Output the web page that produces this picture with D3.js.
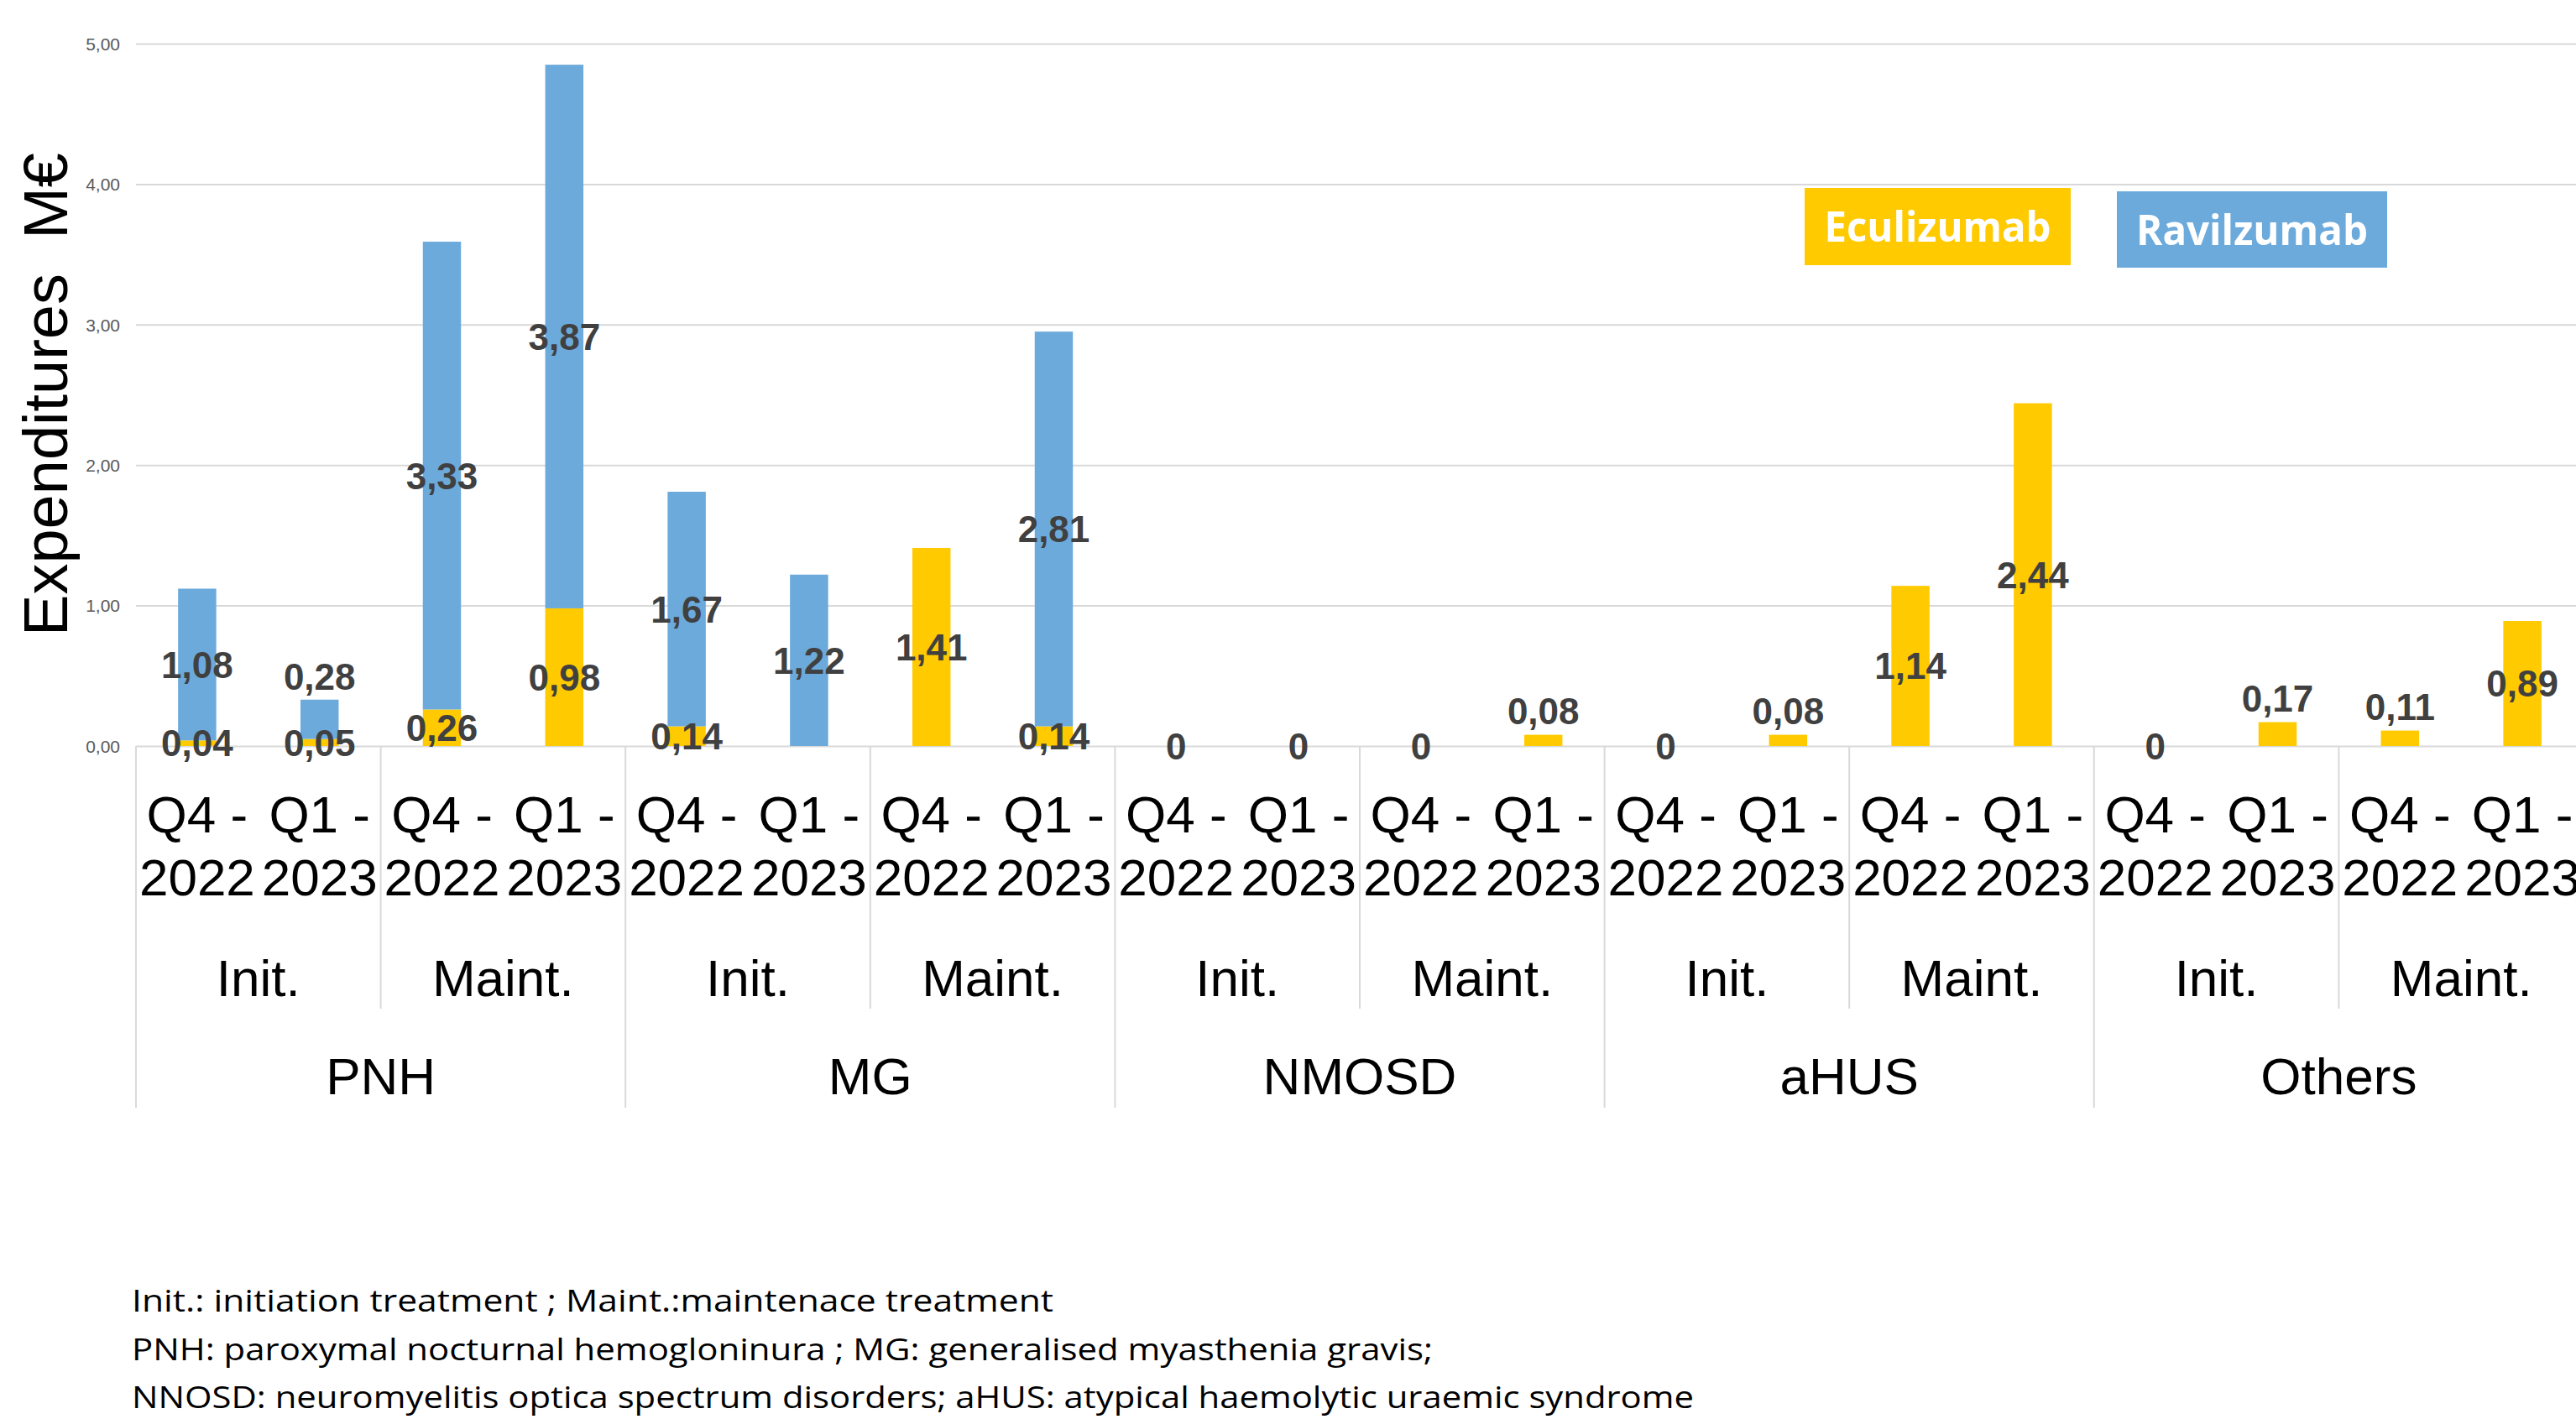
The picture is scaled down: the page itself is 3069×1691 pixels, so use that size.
<!DOCTYPE html>
<html>
<head>
<meta charset="utf-8">
<script src="https://cdn.jsdelivr.net/npm/d3@7"></script>
<style>
  html, body { margin: 0; padding: 0; background: #fff; overflow: hidden; }
  svg { display: block; }
</style>
</head>
<body>
<svg id="chart" width="3069" height="1691"></svg>
<script>
// Categories: disease > treatment phase > quarter
const diseases = ["PNH", "MG", "NMOSD", "aHUS", "Others"];
const phases = ["Init.", "Maint."];
const quarters = [["Q4 -", "2022"], ["Q1 -", "2023"]];

// Expenditures in M€, one value per quarter slot (null = no value shown)
const eculizumab = [0.04, 0.05, 0.26, 0.98,  0.14, null, 1.41, 0.14,  0, 0, 0, 0.08,  0, 0.08, 1.14, 2.44,  0, 0.17, 0.11, 0.89];
const ravulizumab = [1.08, 0.28, 3.33, 3.87,  1.67, 1.22, null, 2.81,  null, null, null, null,  null, null, null, null,  null, null, null, null];

const yTicks = [0, 1, 2, 3, 4, 5];
const legendItems = [
  { name: "Eculizumab", color: "#FFCA00" },
  { name: "Ravilzumab", color: "#6CAADC" }
];
const footnotes = [
  "Init.: initiation treatment ; Maint.:maintenace treatment",
  "PNH: paroxymal nocturnal hemogloninura ; MG: generalised myasthenia gravis;",
  "NNOSD: neuromyelitis optica spectrum disorders; aHUS: atypical haemolytic uraemic syndrome"
];

const fmt = v => v === 0 ? "0" : d3.format(".2f")(v).replace(".", ",");

const svg = d3.select("#chart");
const plotLeft = 162, plotRight = 3078, plotTop = 52, plotBottom = 889;
const slotIds = d3.range(eculizumab.length);

const x = d3.scaleBand().domain(slotIds).range([plotLeft, plotRight]).padding(0);
const y = d3.scaleLinear().domain([0, 5]).range([plotBottom, plotTop]);
const barW = x.bandwidth() * 0.312;

// gridlines and value axis
const yAxis = d3.axisLeft(y).tickValues(yTicks).tickSize(-(plotRight - plotLeft))
  .tickFormat(d => d3.format(".2f")(d).replace(".", ","));
const gy = svg.append("g").attr("transform", `translate(${plotLeft},0)`).call(yAxis);
gy.select(".domain").remove();
gy.selectAll(".tick line").attr("stroke", "#d9d9d9").attr("stroke-width", 2);
gy.selectAll(".tick text").attr("x", -19).attr("dy", "0.35em")
  .attr("fill", "#595959").style("font-family", "Liberation Sans, Arial, sans-serif").style("font-size", "21px");

// y axis title
svg.append("text")
  .attr("transform", `translate(80,470) rotate(-90)`)
  .attr("text-anchor", "middle")
  .style("font-family", "Liberation Sans, Arial, sans-serif")
  .style("font-size", "74px").style("white-space", "pre")
  .attr("fill", "#000")
  .text("Expenditures  M€");

// stacked bars
const stacks = slotIds.map(i => {
  const e = eculizumab[i], r = ravulizumab[i];
  const segs = [];
  let base = 0;
  if (e !== null) { segs.push({ i, key: 0, v: e, y0: base, y1: base + e }); base += e; }
  if (r !== null) { segs.push({ i, key: 1, v: r, y0: base, y1: base + r }); base += r; }
  segs.forEach((s, k) => s.top = (k === segs.length - 1));
  return segs;
});
const segments = stacks.flat();

svg.append("g").selectAll("rect").data(segments.filter(s => s.v > 0)).join("rect")
  .attr("x", d => x(d.i) + (x.bandwidth() - barW) / 2)
  .attr("width", barW)
  .attr("y", d => y(d.y1))
  .attr("height", d => y(d.y0) - y(d.y1))
  .attr("fill", d => legendItems[d.key].color);

// data labels: centred in segment, lifted above the bar when the top segment is too short
svg.append("g").selectAll("text").data(segments).join("text")
  .attr("x", d => x(d.i) + x.bandwidth() / 2)
  .attr("y", d => {
    const h = y(d.y0) - y(d.y1);
    if (d.v > 0 && d.top && h < 60) return y(d.y1) - 28;
    return (y(d.y0) + y(d.y1)) / 2;
  })
  .attr("dy", "0.36em")
  .attr("text-anchor", "middle")
  .style("font-family", "Liberation Sans, Arial, sans-serif")
  .style("font-size", "44px").style("font-weight", "bold")
  .attr("fill", "#404040")
  .text(d => fmt(d.v));

// category axis: separators and multi-level labels
const axisFont = "Liberation Sans, Arial, sans-serif";
const groupW = x.bandwidth() * 4, phaseW = x.bandwidth() * 2;
const sep = svg.append("g").attr("stroke", "#d9d9d9").attr("stroke-width", 2);
diseases.forEach((dz, di) => {
  const gx = plotLeft + di * groupW;
  sep.append("line").attr("x1", gx).attr("x2", gx).attr("y1", plotBottom).attr("y2", 1320);
  sep.append("line").attr("x1", gx + phaseW).attr("x2", gx + phaseW).attr("y1", plotBottom).attr("y2", 1202);
});

const labels = svg.append("g").style("font-family", axisFont).style("font-size", "62px").attr("fill", "#000").attr("text-anchor", "middle");
slotIds.forEach(i => {
  const q = quarters[i % 2];
  const cx = x(i) + x.bandwidth() / 2;
  labels.append("text").attr("x", cx).attr("y", 992).text(q[0]);
  labels.append("text").attr("x", cx).attr("y", 1067).text(q[1]);
});
diseases.forEach((dz, di) => {
  const gx = plotLeft + di * groupW;
  phases.forEach((p, pi) => {
    labels.append("text").attr("x", gx + pi * phaseW + phaseW / 2).attr("y", 1187).text(p);
  });
  labels.append("text").attr("x", gx + groupW / 2).attr("y", 1304).text(dz);
});

// legend boxes
const legendBoxes = [
  { x: 2150, y: 224, w: 317, h: 92, tw: 270 },
  { x: 2522, y: 228, w: 322, h: 91, tw: 276 }
];
legendItems.forEach((item, k) => {
  const b = legendBoxes[k];
  svg.append("rect").attr("x", b.x).attr("y", b.y).attr("width", b.w).attr("height", b.h).attr("fill", item.color);
  svg.append("text")
    .attr("x", b.x + b.w / 2).attr("y", b.y + b.h / 2).attr("dy", "0.36em")
    .attr("text-anchor", "middle")
    .attr("textLength", b.tw).attr("lengthAdjust", "spacingAndGlyphs")
    .style("font-family", "Open Sans, Lato, sans-serif").style("font-size", "50px").style("font-weight", "bold")
    .attr("fill", "#fff")
    .text(item.name);
});

// footnotes
const noteWidths = [1098, 1550, 1861];
footnotes.forEach((t, k) => {
  svg.append("text")
    .attr("x", 157).attr("y", 1563 + k * 57.5)
    .attr("textLength", noteWidths[k]).attr("lengthAdjust", "spacingAndGlyphs")
    .style("font-family", "Open Sans, Noto Sans, sans-serif").style("font-size", "37px")
    .attr("fill", "#000")
    .text(t);
});
</script>
</body>
</html>
